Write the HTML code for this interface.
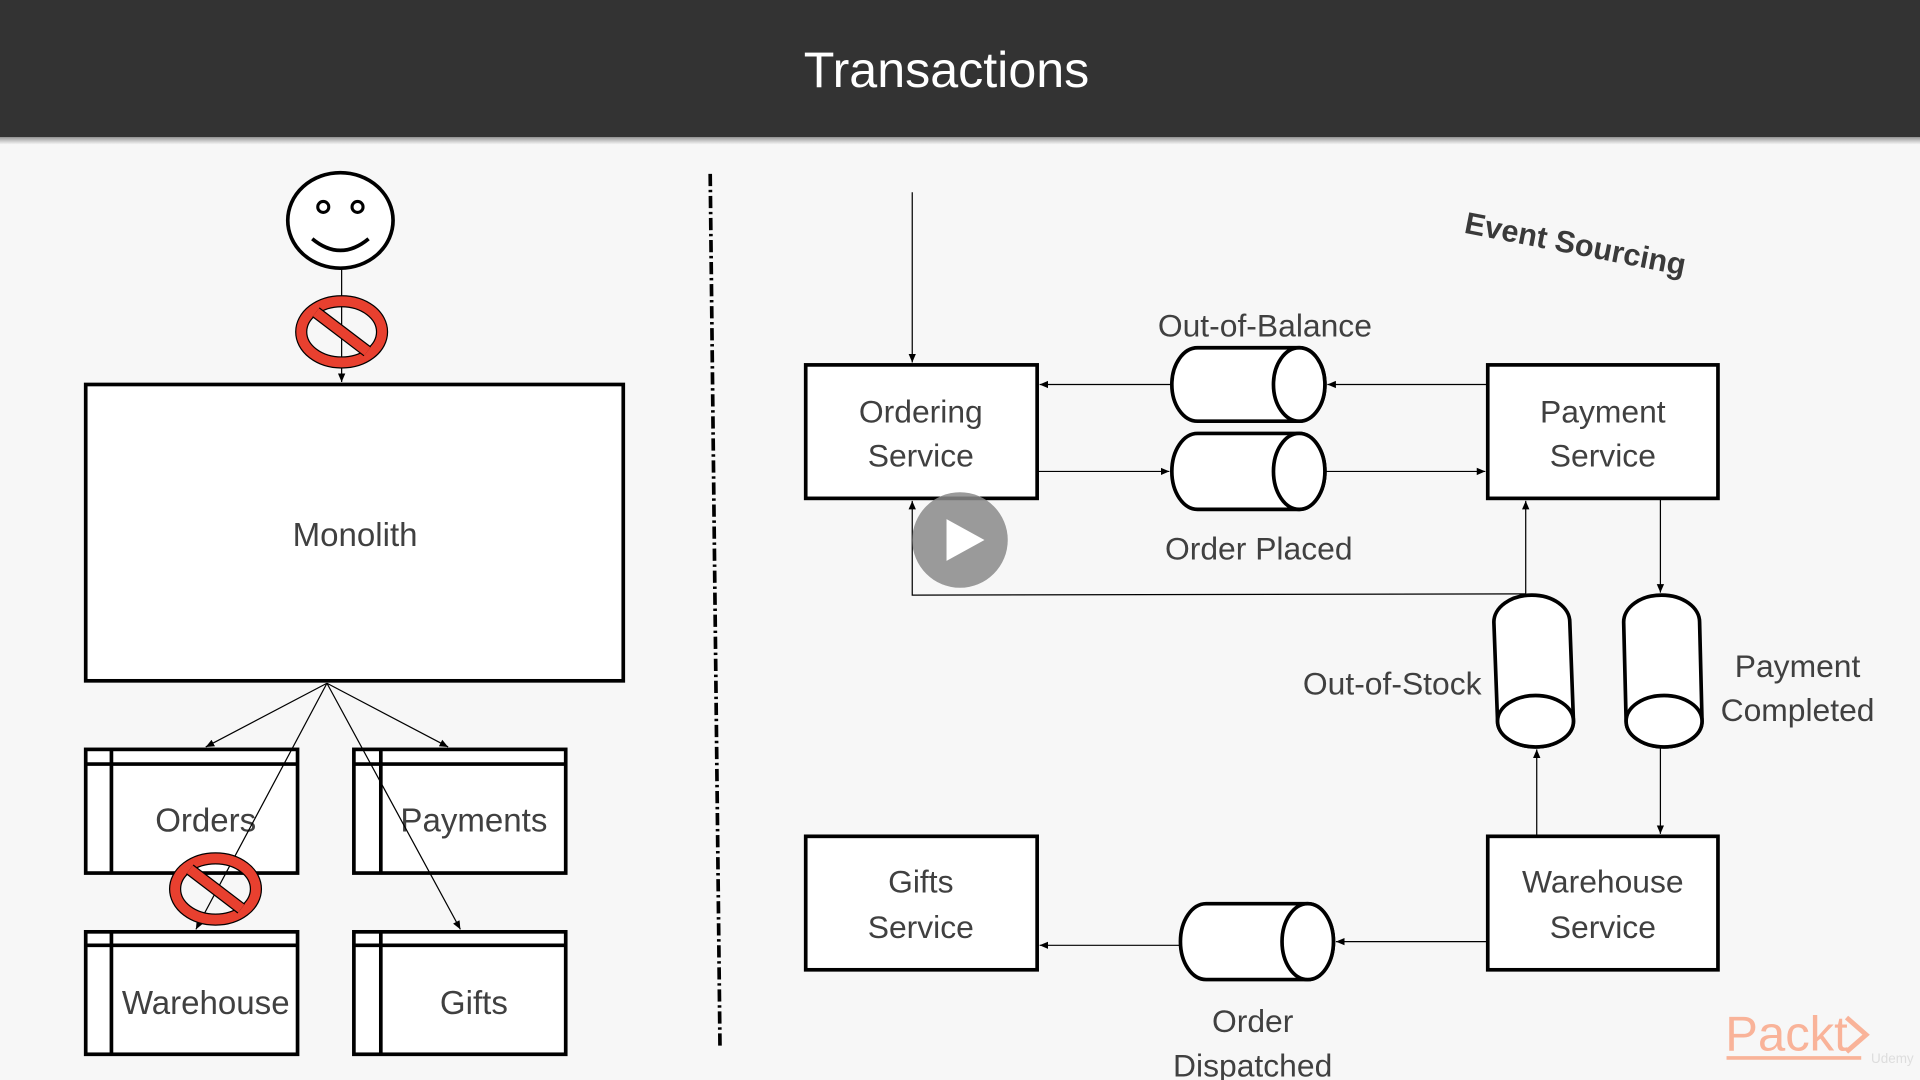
<!DOCTYPE html>
<html><head><meta charset="utf-8"><style>
html,body{margin:0;padding:0;width:1920px;height:1080px;overflow:hidden;background:#f7f7f7}
svg{display:block}
text{font-family:"Liberation Sans",sans-serif;fill:#404040}
</style></head><body>
<svg width="1920" height="1080" viewBox="0 0 1568 882" preserveAspectRatio="none">
<defs>
<marker id="a" markerWidth="8" markerHeight="8" refX="7" refY="4" orient="auto" markerUnits="userSpaceOnUse"><path d="M0,1 L7,4 L0,7 z" fill="#000"/></marker>
<linearGradient id="sh" x1="0" y1="0" x2="0" y2="1"><stop offset="0" stop-color="#999"/><stop offset="1" stop-color="#f7f7f7"/></linearGradient>
</defs>
<rect width="1568" height="882" fill="#f7f7f7"/>
<rect y="112" width="1568" height="6" fill="url(#sh)"/>
<rect width="1568" height="112" fill="#333"/>
<text x="773" y="71" font-size="41" text-anchor="middle" style="fill:#fff">Transactions</text>

<ellipse cx="278" cy="180" rx="43" ry="39" fill="#fff" stroke="#000" stroke-width="3"/>
<ellipse cx="264" cy="169" rx="4.5" ry="4.5" fill="none" stroke="#000" stroke-width="2.5"/>
<ellipse cx="292" cy="169" rx="4.5" ry="4.5" fill="none" stroke="#000" stroke-width="2.5"/>
<path d="M255,195 Q278,214 301,195" fill="none" stroke="#000" stroke-width="3"/>
<line x1="279" y1="219" x2="279" y2="312" stroke="#000" stroke-width="1" marker-end="url(#a)"/>
<g>
<ellipse cx="279" cy="271" rx="33" ry="25" fill="none" stroke="#000" stroke-width="10"/>
<ellipse cx="279" cy="271" rx="33" ry="25" fill="none" stroke="#e8402f" stroke-width="8"/>
<line x1="258" y1="255" x2="300" y2="287" stroke="#000" stroke-width="10"/>
<line x1="258" y1="255" x2="300" y2="287" stroke="#e8402f" stroke-width="8"/>
</g>
<rect x="70" y="314" width="439" height="242" fill="#fff" stroke="#000" stroke-width="3"/>
<text x="290" y="446" font-size="27" text-anchor="middle">Monolith</text>

<g fill="#fff" stroke="#000" stroke-width="3">
<rect x="70" y="612" width="173" height="101"/><line x1="70" y1="624" x2="243" y2="624"/><line x1="91" y1="612" x2="91" y2="713"/>
<rect x="289" y="612" width="173" height="101"/><line x1="289" y1="624" x2="462" y2="624"/><line x1="311" y1="612" x2="311" y2="713"/>
<rect x="70" y="761" width="173" height="100"/><line x1="70" y1="772" x2="243" y2="772"/><line x1="91" y1="761" x2="91" y2="861"/>
<rect x="289" y="761" width="173" height="100"/><line x1="289" y1="772" x2="462" y2="772"/><line x1="311" y1="761" x2="311" y2="861"/>
</g>
<text x="168" y="679" font-size="27" text-anchor="middle">Orders</text>
<text x="387" y="679" font-size="27" text-anchor="middle">Payments</text>
<text x="168" y="828" font-size="27" text-anchor="middle">Warehouse</text>
<text x="387" y="828" font-size="27" text-anchor="middle">Gifts</text>
<g stroke="#000" stroke-width="1">
<line x1="267" y1="558" x2="168" y2="610" marker-end="url(#a)"/>
<line x1="267" y1="558" x2="366" y2="610" marker-end="url(#a)"/>
<line x1="267" y1="558" x2="160" y2="759" marker-end="url(#a)"/>
<line x1="267" y1="558" x2="376" y2="759" marker-end="url(#a)"/>
</g>
<g>
<ellipse cx="176" cy="726" rx="33" ry="25" fill="none" stroke="#000" stroke-width="10"/>
<ellipse cx="176" cy="726" rx="33" ry="25" fill="none" stroke="#e8402f" stroke-width="8"/>
<line x1="155" y1="710" x2="197" y2="742" stroke="#000" stroke-width="10"/>
<line x1="155" y1="710" x2="197" y2="742" stroke="#e8402f" stroke-width="8"/>
</g>

<line x1="580" y1="142" x2="588" y2="856" stroke="#000" stroke-width="3" stroke-dasharray="10,3,2,3"/>

<text x="1195" y="190" font-size="25" font-weight="bold" transform="rotate(11 1195 190)" style="fill:#3a3a3a">Event Sourcing</text>
<line x1="745" y1="157" x2="745" y2="296" stroke="#000" stroke-width="1" marker-end="url(#a)"/>
<rect x="658" y="298" width="189" height="109" fill="#fff" stroke="#000" stroke-width="3"/>
<text x="752" y="345" font-size="26" text-anchor="middle">Ordering</text>
<text x="752" y="381" font-size="26" text-anchor="middle">Service</text>
<rect x="1215" y="298" width="188" height="109" fill="#fff" stroke="#000" stroke-width="3"/>
<text x="1309" y="345" font-size="26" text-anchor="middle">Payment</text>
<text x="1309" y="381" font-size="26" text-anchor="middle">Service</text>
<rect x="658" y="683" width="189" height="109" fill="#fff" stroke="#000" stroke-width="3"/>
<text x="752" y="729" font-size="26" text-anchor="middle">Gifts</text>
<text x="752" y="766" font-size="26" text-anchor="middle">Service</text>
<rect x="1215" y="683" width="188" height="109" fill="#fff" stroke="#000" stroke-width="3"/>
<text x="1309" y="729" font-size="26" text-anchor="middle">Warehouse</text>
<text x="1309" y="766" font-size="26" text-anchor="middle">Service</text>

<g fill="#fff" stroke="#000" stroke-width="3">
<path d="M978,284 L1061,284 A21,30 0 0 1 1061,344 L978,344 A21,30 0 0 1 978,284 z"/>
<ellipse cx="1061" cy="314" rx="21" ry="30"/>
<path d="M978,354 L1061,354 A21,31 0 0 1 1061,416 L978,416 A21,31 0 0 1 978,354 z"/>
<ellipse cx="1061" cy="385" rx="21" ry="31"/>
<path d="M985,738 L1068,738 A21,31 0 0 1 1068,800 L985,800 A21,31 0 0 1 985,738 z"/>
<ellipse cx="1068" cy="769" rx="21" ry="31"/>
<path d="M1220,508 A31,22 0 0 1 1282,508 L1285,589 A31,21 0 0 1 1223,589 z"/>
<ellipse cx="1254" cy="589" rx="31" ry="21"/>
<path d="M1326,508 A31,22 0 0 1 1388,508 L1390,589 A31,21 0 0 1 1328,589 z"/>
<ellipse cx="1359" cy="589" rx="31" ry="21"/>
</g>
<text x="1033" y="275" font-size="26" text-anchor="middle">Out-of-Balance</text>
<text x="1028" y="457" font-size="26" text-anchor="middle">Order Placed</text>
<text x="1137" y="567" font-size="26" text-anchor="middle">Out-of-Stock</text>
<text x="1468" y="553" font-size="26" text-anchor="middle">Payment</text>
<text x="1468" y="589" font-size="26" text-anchor="middle">Completed</text>
<text x="1023" y="843" font-size="26" text-anchor="middle">Order</text>
<text x="1023" y="879" font-size="26" text-anchor="middle">Dispatched</text>

<g stroke="#000" stroke-width="1" fill="none">
<line x1="956" y1="314" x2="849" y2="314" marker-end="url(#a)"/>
<line x1="1215" y1="314" x2="1084" y2="314" marker-end="url(#a)"/>
<line x1="847" y1="385" x2="955" y2="385" marker-end="url(#a)"/>
<line x1="1083" y1="385" x2="1213" y2="385" marker-end="url(#a)"/>
<line x1="1246" y1="485" x2="1246" y2="409" marker-end="url(#a)"/>
<polyline points="1246,485 745,486 745,409" marker-end="url(#a)"/>
<line x1="1356" y1="407" x2="1356" y2="484" marker-end="url(#a)"/>
<line x1="1255" y1="683" x2="1255" y2="612" marker-end="url(#a)"/>
<line x1="1356" y1="611" x2="1356" y2="681" marker-end="url(#a)"/>
<line x1="1215" y1="769" x2="1091" y2="769" marker-end="url(#a)"/>
<line x1="964" y1="772" x2="849" y2="772" marker-end="url(#a)"/>
</g>
<circle cx="784" cy="441" r="39" fill="#8a8a8a" fill-opacity="0.85"/>
<path d="M773,424 L773,458 L804,441 z" fill="#fff"/>

<text x="1409" y="858" font-size="40" style="fill:#f9b399">Packt</text>
<path d="M1508,831 L1524,845 L1508,859" fill="none" stroke="#f9b399" stroke-width="4"/>
<line x1="1410" y1="864" x2="1520" y2="864" stroke="#f9b399" stroke-width="3"/>
<text x="1528" y="868" font-size="11" style="fill:#ddd">Udemy</text>
</svg>
</body></html>
